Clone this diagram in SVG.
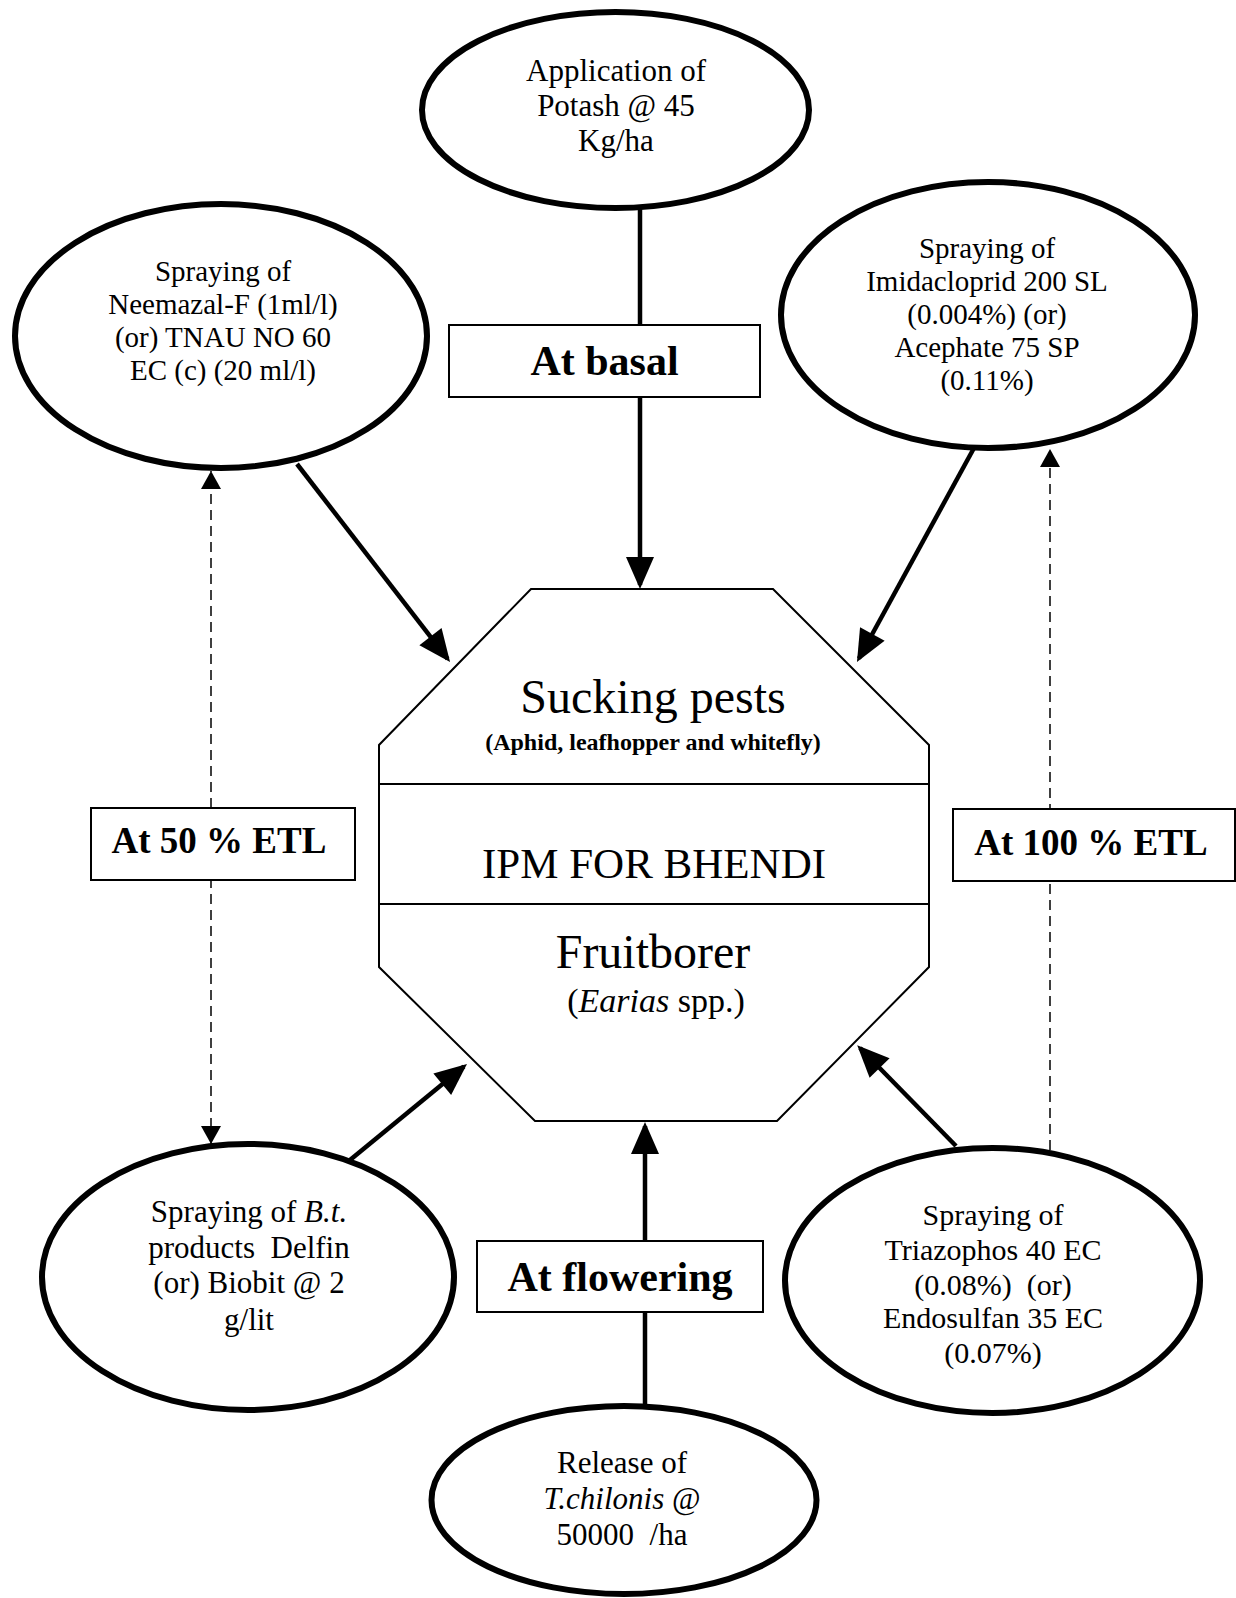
<svg xmlns="http://www.w3.org/2000/svg" width="1236" height="1598" viewBox="0 0 1236 1598">
<style>
.ell{fill:#fff;stroke:#000;stroke-width:6}
.box{fill:#fff;stroke:#000;stroke-width:2}
.oct{fill:#fff;stroke:#000;stroke-width:2}
.t{font-family:"Liberation Serif","Times New Roman",serif;fill:#000;text-anchor:middle}
.lbl{font-family:"Liberation Serif","Times New Roman",serif;font-weight:bold;fill:#000;text-anchor:middle}
.arr{stroke:#000;stroke-width:4.5;fill:none;marker-end:url(#big)}
.dash{stroke:#000;stroke-width:1.5;fill:none;stroke-dasharray:10 6}
</style>
<defs>
<marker id="big" markerUnits="userSpaceOnUse" markerWidth="40" markerHeight="40" refX="28" refY="14" orient="auto" overflow="visible">
<path d="M0,0 L32,14 L0,28 Z" fill="#000"/>
</marker>
<marker id="small" markerUnits="userSpaceOnUse" markerWidth="24" markerHeight="24" refX="18" refY="10" orient="auto-start-reverse" overflow="visible">
<path d="M0,0 L18,10 L0,20 Z" fill="#000"/>
</marker>
</defs>
<rect width="1236" height="1598" fill="#fff"/>
<g id="connectors">
<line class="dash" x1="211" y1="1144" x2="211" y2="471" marker-start="url(#small)" marker-end="url(#small)"/>
<line class="dash" x1="1050" y1="1150" x2="1050" y2="449" marker-end="url(#small)"/>
<line x1="640" y1="207" x2="640" y2="325" stroke="#000" stroke-width="4.5"/>
<line class="arr" x1="640" y1="397" x2="640" y2="585"/>
<line x1="645" y1="1406" x2="645" y2="1312" stroke="#000" stroke-width="4.5"/>
<line class="arr" x1="645" y1="1242" x2="645" y2="1126"/>
<line class="arr" x1="297" y1="464" x2="447.6" y2="658.8"/>
<line class="arr" x1="974" y1="448" x2="858.9" y2="658.5"/>
<line class="arr" x1="350" y1="1160" x2="463.9" y2="1066.5"/>
<line class="arr" x1="956" y1="1146" x2="860" y2="1048"/>
</g>
<g id="center">
<polygon class="oct" points="531,589 773,589 929,745 929,967 777,1121 535,1121 379,967 379,745"/>
<line x1="379" y1="784" x2="929" y2="784" stroke="#000" stroke-width="2"/>
<line x1="379" y1="904" x2="929" y2="904" stroke="#000" stroke-width="2"/>
<text class="t" x="653" y="713" font-size="48">Sucking pests</text>
<text class="t" x="653" y="750" font-size="24" font-weight="bold">(Aphid, leafhopper and whitefly)</text>
<text class="t" x="654" y="878" font-size="43">IPM FOR BHENDI</text>
<text class="t" x="653" y="968" font-size="48">Fruitborer</text>
<text class="t" x="656" y="1012" font-size="34">(<tspan font-style="italic">Earias</tspan> spp.)</text>
</g>
<g id="potash">
<ellipse class="ell" cx="615.5" cy="110" rx="193.5" ry="98"/>
<text class="t" x="616" font-size="31"><tspan x="616" y="81">Application of</tspan><tspan x="616" y="116">Potash @ 45</tspan><tspan x="616" y="151">Kg/ha</tspan></text>
</g>
<g id="neemazal">
<ellipse class="ell" cx="221" cy="336" rx="206" ry="132"/>
<text class="t" font-size="29"><tspan x="223" y="281">Spraying of</tspan><tspan x="223" y="314">Neemazal-F (1ml/l)</tspan><tspan x="223" y="347">(or) TNAU NO 60</tspan><tspan x="223" y="380">EC (c) (20 ml/l)</tspan></text>
</g>
<g id="imidacloprid">
<ellipse class="ell" cx="988" cy="315" rx="207" ry="133"/>
<text class="t" font-size="29"><tspan x="987" y="258">Spraying of</tspan><tspan x="987" y="291">Imidacloprid 200 SL</tspan><tspan x="987" y="324">(0.004%) (or)</tspan><tspan x="987" y="357">Acephate 75 SP</tspan><tspan x="987" y="390">(0.11%)</tspan></text>
</g>
<g id="bt">
<ellipse class="ell" cx="248" cy="1277" rx="206" ry="133"/>
<text class="t" font-size="31" xml:space="preserve"><tspan x="249" y="1222">Spraying of <tspan font-style="italic">B.t.</tspan></tspan><tspan x="249" y="1258">products  Delfin</tspan><tspan x="249" y="1293">(or) Biobit @ 2</tspan><tspan x="249" y="1330">g/lit</tspan></text>
</g>
<g id="triazophos">
<ellipse class="ell" cx="992.5" cy="1280.5" rx="207.5" ry="132.5"/>
<text class="t" font-size="30" xml:space="preserve"><tspan x="993" y="1225">Spraying of</tspan><tspan x="993" y="1260">Triazophos 40 EC</tspan><tspan x="993" y="1295">(0.08%)  (or)</tspan><tspan x="993" y="1328">Endosulfan 35 EC</tspan><tspan x="993" y="1363">(0.07%)</tspan></text>
</g>
<g id="chilonis">
<ellipse class="ell" cx="624" cy="1500" rx="192.5" ry="94"/>
<text class="t" font-size="31" xml:space="preserve"><tspan x="622" y="1473">Release of</tspan><tspan x="622" y="1509"><tspan font-style="italic">T.chilonis</tspan> @</tspan><tspan x="622" y="1545">50000  /ha</tspan></text>
</g>
<g id="basal">
<rect class="box" x="449" y="325" width="311" height="72"/>
<text class="lbl" x="604.5" y="375" font-size="42">At basal</text>
</g>
<g id="flowering">
<rect class="box" x="477" y="1241" width="286" height="71"/>
<text class="lbl" x="620" y="1291" font-size="42">At flowering</text>
</g>
<g id="etl50">
<rect class="box" x="91" y="808" width="264" height="72"/>
<text class="lbl" x="219" y="853" font-size="37">At 50 % ETL</text>
</g>
<g id="etl100">
<rect class="box" x="953" y="809" width="282" height="72"/>
<text class="lbl" x="1091" y="855" font-size="37">At 100 % ETL</text>
</g>
</svg>
